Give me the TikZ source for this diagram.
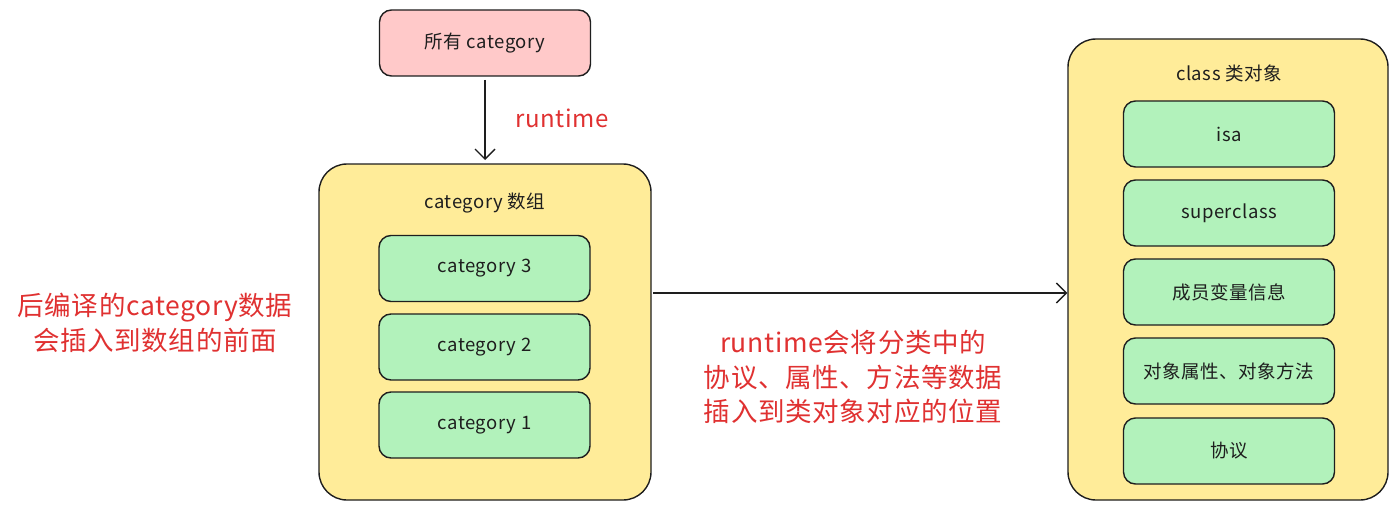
\documentclass[tikz,border=0pt]{standalone}
\usepackage{fontspec}
\setmainfont{Noto Sans CJK SC}
\newfontfamily\spacedfont[LetterSpace=3]{Noto Sans CJK SC}
\newfontfamily\redfont[LetterSpace=2.5]{Noto Sans CJK SC}
\usetikzlibrary{arrows.meta}
\definecolor{pinkf}{HTML}{FFC9C9}
\definecolor{yellowf}{HTML}{FFEC99}
\definecolor{greenf}{HTML}{B2F2BB}
\definecolor{inkc}{HTML}{1E1E1E}
\definecolor{redt}{HTML}{E03131}
\begin{document}
\begin{tikzpicture}[x=1pt,y=-1pt,
  box/.style={draw=inkc,line width=1.4pt,rounded corners=12pt,minimum width=211pt,minimum height=66pt,inner sep=0pt,font=\spacedfont\fontsize{18.5}{22}\selectfont,text=inkc},
  gbox/.style={box,fill=greenf},
  cont/.style={draw=inkc,line width=1.4pt,rounded corners=28pt,fill=yellowf,inner sep=0pt},
  ttl/.style={font=\spacedfont\fontsize{18.5}{22}\selectfont,text=inkc},
  rtxt/.style={font=\redfont\fontsize{26.5}{34.5}\selectfont,text=redt,align=center},
  arr/.style={draw=inkc,line width=1.4pt,-{Straight Barb[length=10pt,width=20pt,line width=1.4pt]}}]
\useasboundingbox (0,0) rectangle (1398,511);
\fill[white] (0,0) rectangle (1398,511);
% top box
\node[box,fill=pinkf] (all) at (485,43) {所有 category};
% left container
\node[cont,minimum width=332pt,minimum height=336pt] (arrL) at (485,332) {};
\node[ttl] (arrT) at (485,203) {category 数组};
\node[gbox] (c3) at (484.5,268.5) {category 3};
\node[gbox] (c2) at (484.5,347) {category 2};
\node[gbox] (c1) at (484.5,425) {category 1};
% right container
\node[cont,minimum width=320pt,minimum height=461pt] (cls) at (1228,269.5) {};
\node[ttl] (clsT) at (1229,73) {class 类对象};
\node[gbox] (isa) at (1229,134) {isa};
\node[gbox] (sup) at (1229,213) {superclass};
\node[gbox] (ivar) at (1229,292) {成员变量信息};
\node[gbox] (prop) at (1229,371) {对象属性、对象方法};
\node[gbox] (proto) at (1229,451) {协议};
% arrows
\draw[arr] (all.south |- 0,80) -- (arrL.north |- 0,160);
\node[font=\redfont\fontsize{24}{28}\selectfont,text=redt] (rt) at (562,118) {runtime};
\coordinate (aS) at (653,293);
\draw[arr] (aS) -- (cls.west |- aS);
% red notes
\node[rtxt] (noteL) at (155,323) {后编译的category数据\\会插入到数组的前面};
\node[rtxt] (noteM) at (853,377) {runtime会将分类中的\\协议、属性、方法等数据\\插入到类对象对应的位置};
\end{tikzpicture}
\end{document}
